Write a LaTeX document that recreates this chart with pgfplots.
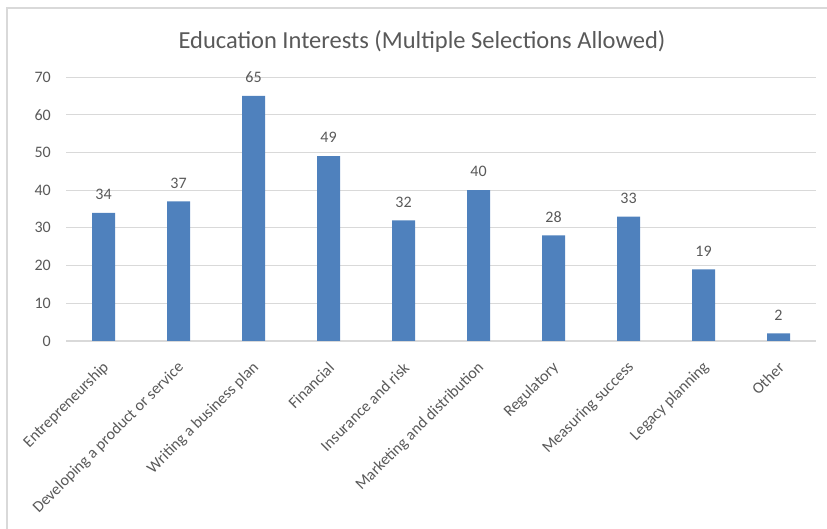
\documentclass[border=0pt]{standalone}
\usepackage{pgfplots}
\pgfplotsset{compat=1.18}
\usepackage{fontspec}
\setmainfont{Carlito}
\definecolor{barblue}{HTML}{4F81BD}
\definecolor{txtgray}{HTML}{595959}
\definecolor{gridgray}{HTML}{D9D9D9}

\begin{document}
\begin{tikzpicture}[x=1pt,y=1pt]
\path[use as bounding box] (0,0) rectangle (827,529);
% frame of the pasted chart
\draw[gridgray, line width=1.5pt] (7,0) -- (7,521) -- (827,521);
\node[txtgray, font=\fontsize{24.5}{28}\selectfont] at (422,487)
  {Education Interests (Multiple Selections Allowed)};
\begin{axis}[
  at={(66pt,188pt)}, anchor=south west,
  scale only axis, width=750pt, height=264pt,
  ybar, bar width=23pt,
  xmin=-0.5, xmax=9.5, ymin=0, ymax=70,
  ytick={0,10,...,70},
  xtick=data,
  xticklabels={Entrepreneurship,Developing a product or service,Writing a business plan,Financial,Insurance and risk,Marketing and distribution,Regulatory,Measuring success,Legacy planning,Other},
  axis x line*=bottom, axis y line*=left,
  y axis line style={draw=none},
  x axis line style={draw=gridgray, line width=1pt, -},
  major tick length=0pt,
  ymajorgrids, grid style={gridgray, line width=0.8pt},
  /pgf/number format/assume math mode=true,
  tick label style={txtgray, font=\fontsize{16}{18}\selectfont},
  yticklabel style={inner sep=0pt, xshift=-15pt},
  xticklabel style={xshift=3pt, yshift=-24pt, rotate=45, anchor=east, inner sep=0pt},
  nodes near coords,
  nodes near coords style={txtgray, font=\fontsize{16}{18}\selectfont, anchor=south, inner sep=0pt, yshift=13pt},
]
\addplot[fill=barblue, draw=none] coordinates {(0,34) (1,37) (2,65) (3,49) (4,32) (5,40) (6,28) (7,33) (8,19) (9,2)};
\end{axis}
\end{tikzpicture}
\end{document}
